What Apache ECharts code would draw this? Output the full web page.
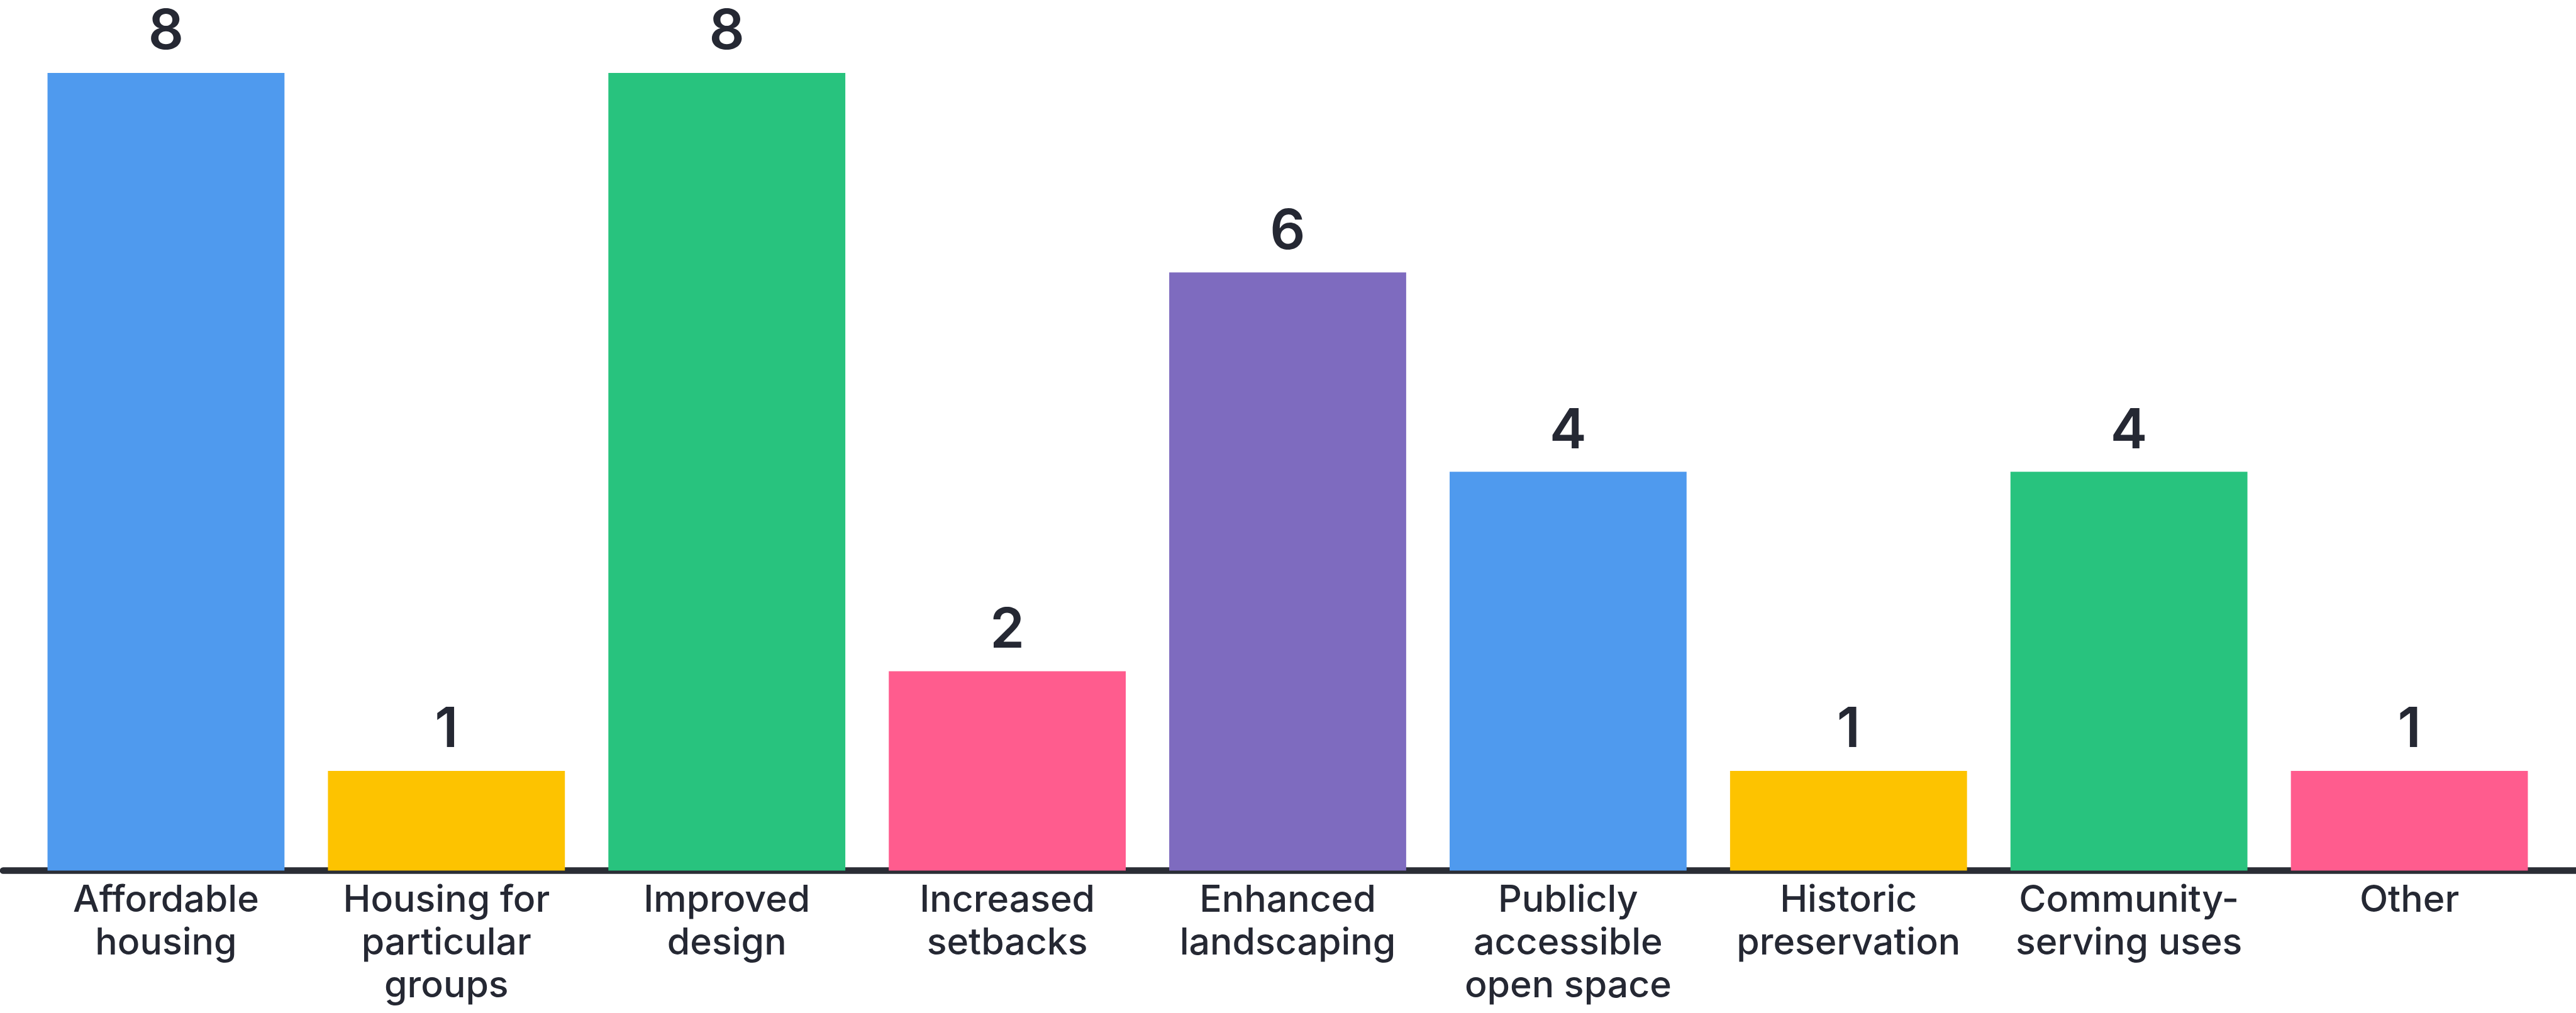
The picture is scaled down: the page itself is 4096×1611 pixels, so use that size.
<!DOCTYPE html>
<html>
<head>
<meta charset="utf-8">
<script src="https://cdn.jsdelivr.net/npm/echarts@6/dist/echarts.min.js"></script>
<style>
html,body{margin:0;padding:0;background:#fff;}
#chart{width:4096px;height:1611px;}
</style>
</head>
<body>
<div id="chart"></div>
<script>
const categories = [
  "Affordable\nhousing",
  "Housing for\nparticular\ngroups",
  "Improved\ndesign",
  "Increased\nsetbacks",
  "Enhanced\nlandscaping",
  "Publicly\naccessible\nopen space",
  "Historic\npreservation",
  "Community-\nserving uses",
  "Other"
];
const values = [8, 1, 8, 2, 6, 4, 1, 4, 1];
const barColors = ["#4F9AEE", "#FDC300", "#28C37E", "#FF5C8E", "#7E6BBF", "#4F9AEE", "#FDC300", "#28C37E", "#FF5C8E"];

const textColor = "#252833";
const fontFamily = "Inter, 'Noto Sans', sans-serif";

const chart = echarts.init(document.getElementById('chart'));
chart.setOption({
  backgroundColor: '#ffffff',
  animation: false,
  grid: [
    { left: 41, right: 42, top: 116, bottom: 226.5, containLabel: false },
    { left: 5, right: 0, top: 116, bottom: 226.5, containLabel: false }
  ],
  xAxis: [
    {
      type: 'category',
      gridIndex: 0,
      data: categories,
      axisLine: { show: false },
      axisTick: { show: false },
      axisLabel: {
        interval: 0,
        margin: 14,
        color: textColor,
        fontFamily: fontFamily,
        fontWeight: 500,
        fontSize: 59,
        lineHeight: 68,
        verticalAlign: 'top'
      }
    },
    {
      type: 'category',
      gridIndex: 1,
      data: [''],
      axisLine: { show: true, lineStyle: { color: '#2A2D35', width: 10.5 } },
      axisTick: { show: false },
      axisLabel: { show: false }
    }
  ],
  yAxis: [
    { type: 'value', gridIndex: 0, min: 0, max: 8, show: false, splitLine: { show: false } },
    { type: 'value', gridIndex: 1, min: 0, max: 8, show: false, splitLine: { show: false } }
  ],
  series: [{
    type: 'bar',
    xAxisIndex: 0,
    yAxisIndex: 0,
    data: values.map((v, i) => ({ value: v, itemStyle: { color: barColors[i] } })),
    barCategoryGap: '15.5%',
    label: {
      show: true,
      position: 'top',
      distance: 20,
      color: textColor,
      fontFamily: fontFamily,
      fontWeight: 600,
      fontSize: 88
    },
    z: 1
  }]
});
</script>
</body>
</html>
